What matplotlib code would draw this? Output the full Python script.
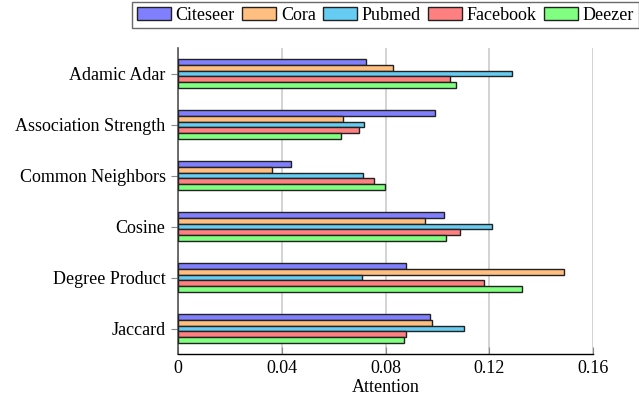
import numpy as np
import matplotlib.pyplot as plt

plt.rcParams['font.family'] = ['Liberation Serif', 'DejaVu Serif']

# heuristics on the y axis (top to bottom)
categories = ['Adamic Adar', 'Association Strength', 'Common Neighbors',
              'Cosine', 'Degree Product', 'Jaccard']
series = ['Citeseer', 'Cora', 'Pubmed', 'Facebook', 'Deezer']

citeseer = [0.0725, 0.0989, 0.0434, 0.1024, 0.0880, 0.0970]
cora = [0.0828, 0.0637, 0.0364, 0.0951, 0.1487, 0.0978]
pubmed = [0.1288, 0.0716, 0.0712, 0.1209, 0.0708, 0.1101]
facebook = [0.1047, 0.0696, 0.0757, 0.1086, 0.1178, 0.0878]
deezer = [0.1073, 0.0628, 0.0797, 0.1032, 0.1326, 0.0871]

values = [citeseer, cora, pubmed, facebook, deezer]
colors = ['#8080ff', '#ffbf80', '#66ccf2', '#ff8080', '#80ff80']

fig = plt.figure(figsize=(6.39, 4.0), dpi=100)
ax = fig.add_axes([178 / 639, 1 - 354 / 400, 415 / 639, 306 / 400])

y = np.arange(len(categories))
h = 0.115
for i, (name, vals, c) in enumerate(zip(series, values, colors)):
    ax.barh(y + (i - 2) * h, vals, height=h, color=c, edgecolor='#222222',
            linewidth=1.0, label=name, zorder=3)

ax.set_ylim(len(categories) - 0.5, -0.5)
ax.set_xlim(0, 0.16)
ax.set_yticks(y)
ax.set_yticklabels(categories, fontsize=13)
ax.set_xticks([0, 0.04, 0.08, 0.12, 0.16])
ax.set_xticklabels(['0', '0.04', '0.08', '0.12', '0.16'], fontsize=13)
ax.set_xlabel('Attention', fontsize=13, labelpad=2)

ax.grid(axis='x', color='#cccccc', linewidth=1.2, zorder=0)
ax.spines['top'].set_visible(False)
ax.spines['right'].set_visible(False)
ax.spines['left'].set_color('#555555')
ax.spines['left'].set_linewidth(1.2)
ax.spines['bottom'].set_color('black')
ax.spines['bottom'].set_linewidth(1.0)
ax.tick_params(axis='y', direction='out', length=5, color='#888888', pad=4)
ax.tick_params(axis='x', direction='in', length=5, color='#888888', pad=4)

leg = ax.legend(loc='lower center', bbox_to_anchor=(0.5, 1.065), ncol=5,
                fontsize=13, frameon=True, fancybox=False, edgecolor='#444444',
                handlelength=1.9, handleheight=0.7, handletextpad=0.25,
                columnspacing=0.4, borderpad=0.25, borderaxespad=0)
leg.get_frame().set_linewidth(1.0)

fig.savefig('out.png', dpi=100)
